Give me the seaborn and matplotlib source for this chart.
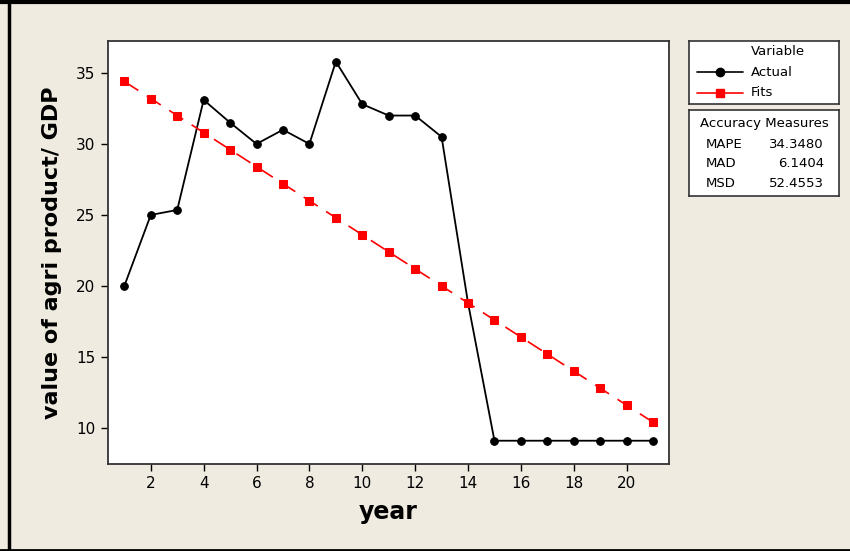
import matplotlib
matplotlib.use("Agg")
import matplotlib.pyplot as plt
from matplotlib.lines import Line2D
import seaborn as sns
import pandas as pd

# Yearly series: observed value and linear-trend fits
years = list(range(1, 22))
actual = [20.0, 25.0, 25.35, 33.1, 31.5, 30.0, 31.0, 30.0, 35.8, 32.8, 32.0,
          32.0, 30.5, 18.8, 9.1, 9.1, 9.1, 9.1, 9.1, 9.1, 9.1]
fits = [34.4, 33.2, 32.0, 30.8, 29.6, 28.4, 27.2, 26.0, 24.8, 23.6, 22.4,
        21.2, 20.0, 18.8, 17.6, 16.4, 15.2, 14.0, 12.8, 11.6, 10.4]

xticks = [2, 4, 6, 8, 10, 12, 14, 16, 18, 20]
yticks = [10, 15, 20, 25, 30, 35]

measure_names = ["MAPE", "MAD", "MSD"]
measure_values = ["34.3480", "6.1404", "52.4553"]

df = pd.DataFrame({"year": years, "Actual": actual, "Fits": fits})

sns.set_style("white")
plt.rcParams["font.family"] = ["DejaVu Sans"]
plt.rcParams["text.color"] = "black"
plt.rcParams["axes.labelcolor"] = "black"
plt.rcParams["xtick.color"] = "black"
plt.rcParams["ytick.color"] = "black"

bg = "#EFEBE1"
fig = plt.figure(figsize=(8.5, 5.51), dpi=100, facecolor=bg)
ax = fig.add_axes([0.127, 0.1579, 0.66, 0.7677])
ax.set_facecolor("white")

sns.lineplot(data=df, x="year", y="Actual", ax=ax, color="black", lw=1.3,
             marker="o", markersize=5.5, markeredgecolor="black", zorder=3)
sns.lineplot(data=df, x="year", y="Fits", ax=ax, color="#FF0000", lw=1.2,
             marker="s", markersize=5.5, markeredgecolor="#FF0000",
             dashes=(10, 6), zorder=4)

ax.set_xlim(0.38, 21.6)
ax.set_ylim(7.46, 37.25)
ax.set_xticks(xticks)
ax.set_yticks(yticks)
ax.tick_params(axis="both", direction="out", length=5, width=1, color="black",
               labelsize=11, bottom=True, left=True, pad=4)
for s in ax.spines.values():
    s.set_color("#333333")
    s.set_linewidth(1.3)

ax.set_xlabel("year", fontsize=17, fontweight="bold", labelpad=6)
ax.set_ylabel("value of agri product/ GDP", fontsize=16, fontweight="bold",
              labelpad=10)

# Legend box
lax = fig.add_axes([0.8106, 0.8113, 0.1765, 0.1143])
lax.set_xlim(0, 1)
lax.set_ylim(0, 1)
lax.set_xticks([])
lax.set_yticks([])
for s in lax.spines.values():
    s.set_color("#333333")
    s.set_linewidth(1.2)
lax.text(0.59, 0.83, "Variable", ha="center", va="center", fontsize=9.5)
lax.add_line(Line2D([0.05, 0.36], [0.5, 0.5], color="black", lw=1.2))
lax.plot([0.205], [0.5], marker="o", color="black", markersize=6)
lax.add_line(Line2D([0.05, 0.36], [0.18, 0.18], color="#FF0000", lw=1.2))
lax.plot([0.205], [0.18], marker="s", color="#FF0000", markersize=6)
lax.text(0.41, 0.5, "Actual", ha="left", va="center", fontsize=9.5)
lax.text(0.41, 0.18, "Fits", ha="left", va="center", fontsize=9.5)

# Accuracy measures box
max_ = fig.add_axes([0.8106, 0.6443, 0.1765, 0.1561])
max_.set_xlim(0, 1)
max_.set_ylim(0, 1)
max_.set_xticks([])
max_.set_yticks([])
for s in max_.spines.values():
    s.set_color("#333333")
    s.set_linewidth(1.2)
max_.text(0.5, 0.84, "Accuracy Measures", ha="center", va="center", fontsize=9.5)
for i, (n, v) in enumerate(zip(measure_names, measure_values)):
    yy = 0.6 - i * 0.225
    max_.text(0.11, yy, n, ha="left", va="center", fontsize=9.5)
    max_.text(0.9, yy, v, ha="right", va="center", fontsize=9.5)

# Outer frame lines
fig.add_artist(Line2D([0, 1], [0.997, 0.997], transform=fig.transFigure,
                      color="black", lw=3))
fig.add_artist(Line2D([0.0100, 0.0100], [0, 1], transform=fig.transFigure,
                      color="black", lw=2.5))
fig.add_artist(Line2D([0, 1], [0.002, 0.002], transform=fig.transFigure,
                      color="black", lw=2))

fig.savefig("out.png", dpi=100, facecolor=bg)
